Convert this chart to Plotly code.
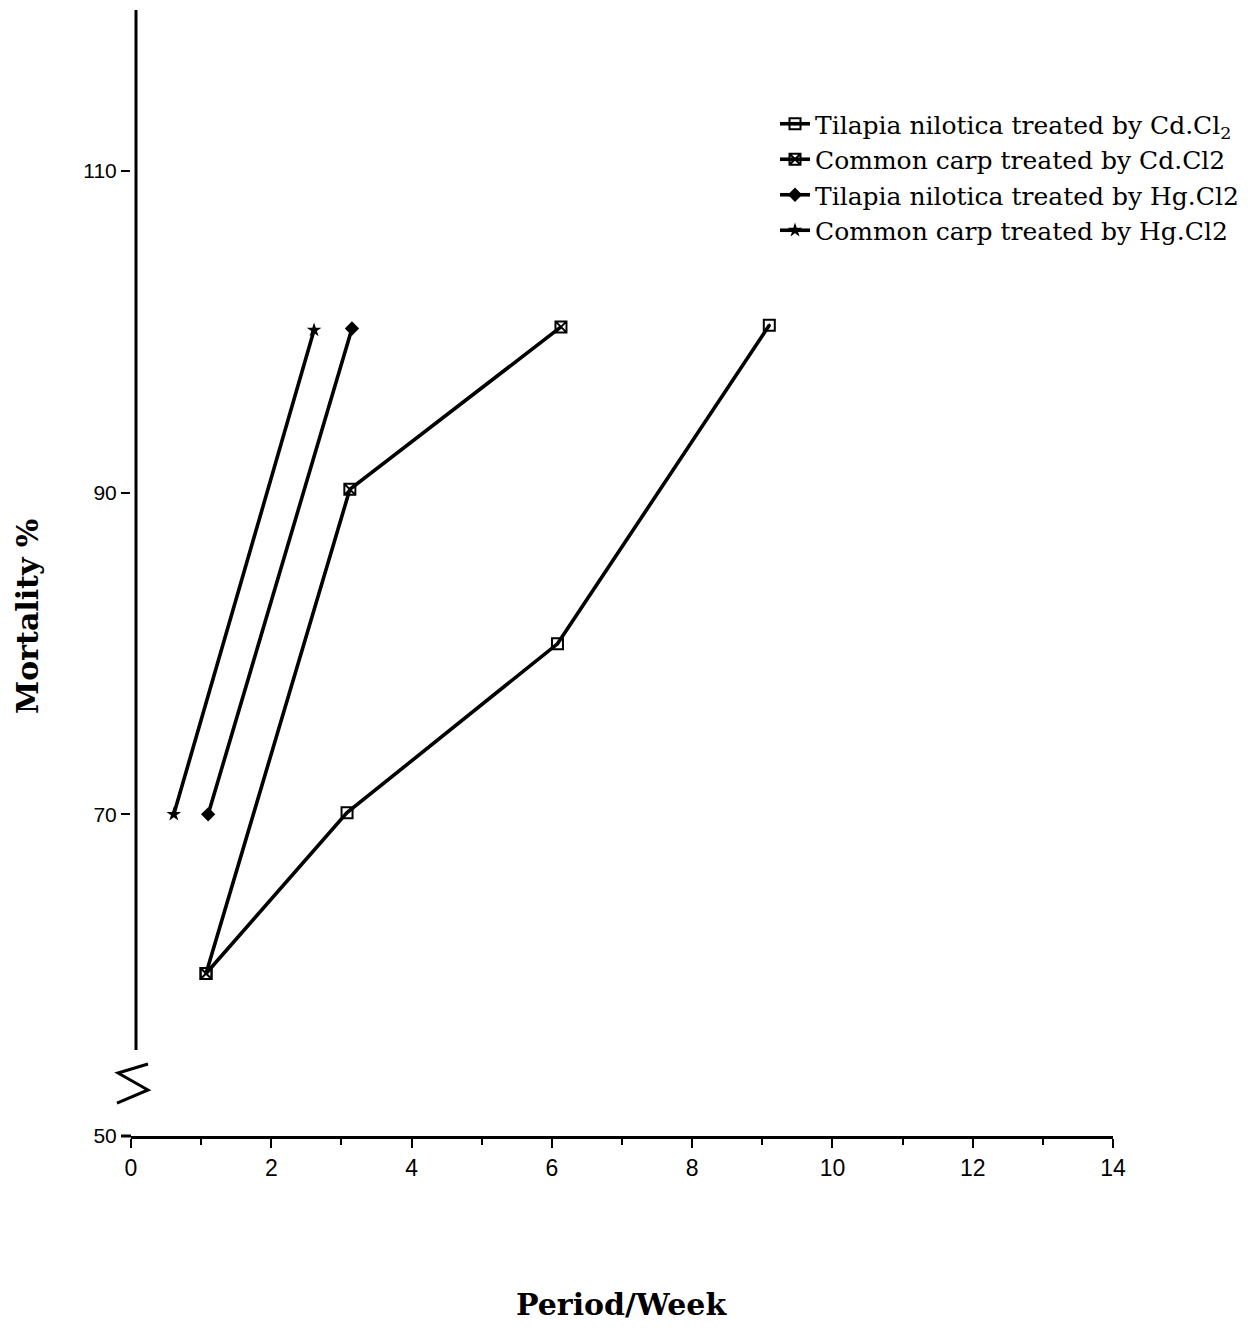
import plotly.graph_objects as go

# ---- data ----
tn_cd_x = [1.07, 3.08, 6.08, 9.10]
tn_cd_y = [60.1, 70.1, 80.6, 100.4]

cc_cd_x = [1.07, 3.12, 6.13]
cc_cd_y = [60.1, 90.2, 100.3]

tn_hg_x = [1.10, 3.15]
tn_hg_y = [70.0, 100.2]

cc_hg_x = [0.61, 2.61]
cc_hg_y = [70.0, 100.1]

x_ticks = [0, 2, 4, 6, 8, 10, 12, 14]
y_ticks = [50, 70, 90, 110]

names = [
    "Tilapia nilotica treated by Cd.Cl<sub>2</sub>",
    "Common carp treated by Cd.Cl2",
    "Tilapia nilotica treated by Hg.Cl2",
    "Common carp treated by Hg.Cl2",
]

# page has an 8px body margin; figure sized to compensate
W, H = 1244, 1320
L, R, T, B = 123, 139, 2, 192
PW, PH = W - L - R, H - T - B   # 982 x 1126

# helpers: page-pixel -> paper coordinates
def px(x):
    return (x - 131) / PW

def py(y):
    return (1136 - y) / PH

fig = go.Figure()
line = dict(color="black", width=3.6)
fig.add_trace(go.Scatter(x=tn_cd_x, y=tn_cd_y, name=names[0], mode="lines+markers",
                         line=line, marker=dict(symbol="square-open-dot", size=11, color="black",
                                                line=dict(width=2, color="black")), cliponaxis=False))
fig.add_trace(go.Scatter(x=cc_cd_x, y=cc_cd_y, name=names[1], mode="lines+markers",
                         line=line, marker=dict(symbol="square-x-open", size=11, color="black",
                                                line=dict(width=2, color="black")), cliponaxis=False))
fig.add_trace(go.Scatter(x=tn_hg_x, y=tn_hg_y, name=names[2], mode="lines+markers",
                         line=line, marker=dict(symbol="diamond", size=11, color="black"), cliponaxis=False))
fig.add_trace(go.Scatter(x=cc_hg_x, y=cc_hg_y, name=names[3], mode="lines+markers",
                         line=line, marker=dict(symbol="star", size=11, color="black"), cliponaxis=False))

# y-axis line with a break, and break symbol
fig.add_shape(type="line", xref="paper", yref="paper", x0=px(136), x1=px(136),
              y0=py(1050), y1=py(10), line=dict(color="black", width=3))
zig = [(148, 1064), (118, 1073), (148, 1090), (117, 1103)]
path = "M " + " L ".join(f"{px(a):.4f},{py(b):.4f}" for a, b in zig)
fig.add_shape(type="path", xref="paper", yref="paper", path=path,
              line=dict(color="black", width=3))
# short extension of x axis to the left
fig.add_shape(type="line", xref="paper", yref="paper", x0=px(121), x1=0,
              y0=0, y1=0, line=dict(color="black", width=3))

fig.add_annotation(text="Mortality %", xref="paper", yref="paper", x=px(27), y=py(617),
                   textangle=-90, showarrow=False, xanchor="center", yanchor="middle",
                   font=dict(family="DejaVu Serif", size=30, color="black", weight="bold"))
fig.add_annotation(text="Period/Week", xref="paper", yref="paper", x=px(621), y=py(1305),
                   showarrow=False, xanchor="center", yanchor="middle",
                   font=dict(family="DejaVu Serif", size=30, color="black", weight="bold"))

fig.update_layout(
    width=W, height=H,
    margin=dict(l=L, r=R, t=T, b=B),
    paper_bgcolor="white", plot_bgcolor="white",
    showlegend=True,
    legend=dict(x=px(775), y=py(101), xanchor="left", yanchor="top",
                font=dict(family="DejaVu Serif", size=25, color="black"),
                bgcolor="rgba(0,0,0,0)", tracegroupgap=0, itemwidth=30),
    xaxis=dict(range=[0, 14], tickvals=x_ticks, ticktext=[str(v) for v in x_ticks],
               ticks="outside", ticklen=9, tickwidth=2, tickcolor="black",
               minor=dict(dtick=1, ticks="outside", ticklen=6, tickwidth=1.5, tickcolor="black"),
               showline=True, linecolor="black", linewidth=3, showgrid=False, zeroline=False,
               tickfont=dict(family="Liberation Sans", size=23, color="black")),
    yaxis=dict(range=[50, 120], tickvals=y_ticks, ticktext=[str(v) for v in y_ticks],
               ticks="outside", ticklen=9, tickwidth=2, tickcolor="black",
               showline=False, showgrid=False, zeroline=False,
               tickfont=dict(family="Liberation Sans", size=21, color="black")),
)

fig.write_html("out.html")
